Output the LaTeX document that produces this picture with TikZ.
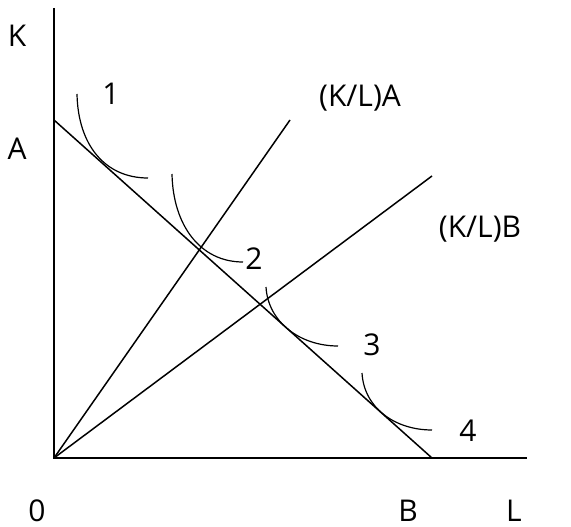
\documentclass[tikz,border=0pt]{standalone}
\usepackage{fontspec}
\setmainfont{Open Sans}
\begin{document}
\begin{tikzpicture}[x=1pt,y=-1pt,
  lbl/.style={font=\fontsize{30}{33}\selectfont,inner sep=0pt,anchor=center},
  blbl/.style={lbl,anchor=base},
  axisline/.style={line width=1.7pt},
  ln/.style={line width=1.5pt},
  iso/.style={line width=1.2pt}]
\useasboundingbox (0,0) rectangle (571,527);
% coordinates
\coordinate (O) at (54,458);
\coordinate (Ktop) at (54,8);
\coordinate (Lend) at (527,458);
\coordinate (Apt) at (54,120);
\coordinate (Bpt) at (432,458);
\coordinate (RA) at (290,120);
\coordinate (RB) at (432,176);
% axes
\draw[axisline] (Ktop) -- (O) -- (Lend);
% budget line and rays
\draw[ln] (Apt) -- (Bpt);
\draw[ln] (O) -- (RA);
\draw[ln] (O) -- (RB);
% isoquants
\coordinate (i1s) at (77,94);  \coordinate (i1e) at (148,178);
\coordinate (i2s) at (172,174); \coordinate (i2e) at (243,262);
\coordinate (i3s) at (266,287); \coordinate (i3e) at (338,346);
\coordinate (i4s) at (362,373); \coordinate (i4e) at (432,430);
\draw[iso] (i1s) .. controls (78,145) and (105,178) .. (i1e);
\draw[iso] (i2s) .. controls (173,225) and (200,262) .. (i2e);
\draw[iso] (i3s) .. controls (268,322) and (300,346) .. (i3e);
\draw[iso] (i4s) .. controls (364,408) and (395,430) .. (i4e);
% labels
\node[lbl] (K) at (17,36) {K};
\node[lbl] (A) at (17,149) {A};
\node[blbl] (zero) at (37,521) {0};
\node[blbl] (B) at (408,521) {B};
\node[blbl] (L) at (514,521) {L};
\node[lbl] (n1) at (111,94) {1};
\node[lbl] (n2) at (254,259) {2};
\node[lbl] (n3) at (372,345) {3};
\node[lbl] (n4) at (468,431) {4};
\node[lbl] (KLA) at (360,98) {(K/L)A};
\node[lbl] (KLB) at (480,229) {(K/L)B};
\end{tikzpicture}
\end{document}
